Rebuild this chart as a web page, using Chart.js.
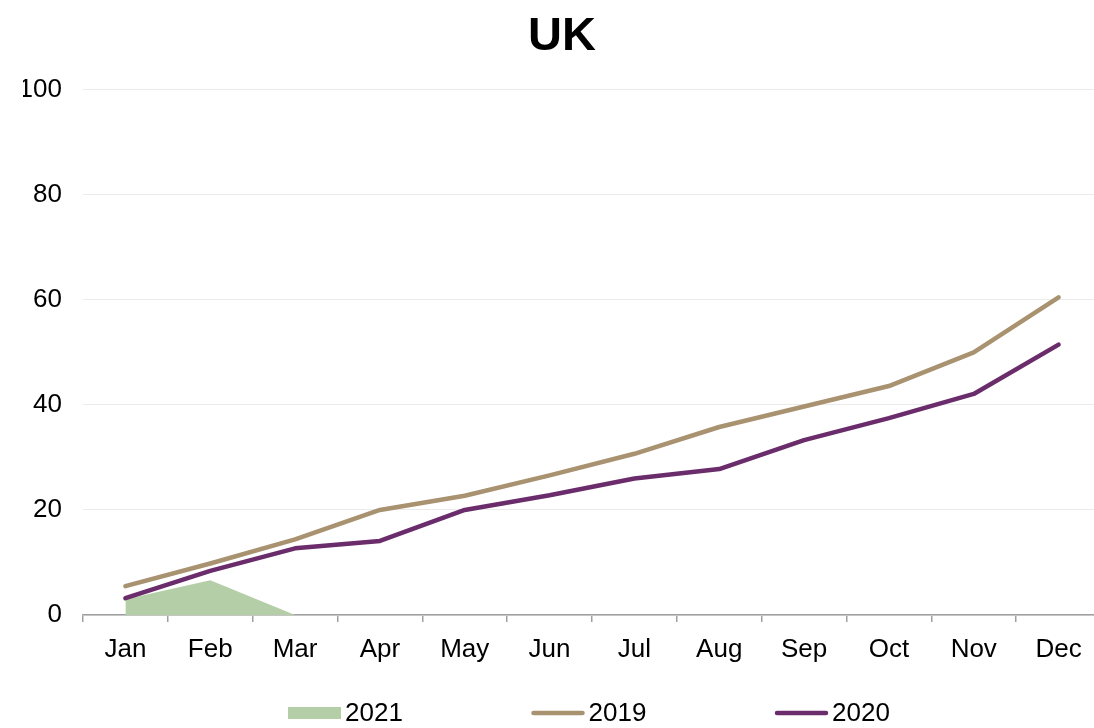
<!DOCTYPE html>
<html>
<head>
<meta charset="utf-8">
<title>UK</title>
<script src="https://cdn.jsdelivr.net/npm/chart.js@4/dist/chart.umd.min.js"></script>
<style>
  html, body { margin: 0; padding: 0; background: #ffffff; overflow: hidden; }
  #wrap { position: relative; width: 1094px; height: 728px; overflow: hidden; }
  #chart { position: absolute; left: 0; top: 0; }
</style>
</head>
<body>
<div id="wrap"><canvas id="chart" width="1101" height="728"></canvas></div>
<script>
// Month categories and yearly cumulative series
const months = ['Jan', 'Feb', 'Mar', 'Apr', 'May', 'Jun', 'Jul', 'Aug', 'Sep', 'Oct', 'Nov', 'Dec'];
const values2021 = [3.0, 6.6, 0];
const values2019 = [5.5, 9.8, 14.4, 20.0, 22.7, 26.6, 30.7, 35.8, 39.7, 43.6, 50.0, 60.5];
const values2020 = [3.2, 8.4, 12.7, 14.1, 20.0, 22.8, 26.0, 27.8, 33.3, 37.5, 42.1, 51.5];
const yTicks = [0, 20, 40, 60, 80, 100];

const FONT = '"Liberation Sans", Arial, Helvetica, sans-serif';
const GREEN = '#b4cea7';
const TAN = '#a89270';
const PURPLE = '#6b2c6c';

// Legend row under the axis: filled box for the area series, short strokes for lines
const bottomLegend = {
  id: 'bottomLegend',
  afterDraw(chart, args, opts) {
    const ctx = chart.ctx;
    const y = opts.y;
    ctx.save();
    ctx.font = opts.fontSize + 'px ' + FONT;
    ctx.textBaseline = 'middle';
    ctx.textAlign = 'left';
    chart.data.datasets.forEach((ds, i) => {
      const x = opts.left + i * opts.step;
      if (ds.fill) {
        ctx.fillStyle = ds.backgroundColor;
        ctx.fillRect(x, y - 6, opts.swatch, 12);
      } else {
        ctx.strokeStyle = ds.borderColor;
        ctx.lineWidth = 4.5;
        ctx.lineCap = 'round';
        ctx.beginPath();
        ctx.moveTo(x + 2, y);
        ctx.lineTo(x + opts.swatch - 2, y);
        ctx.stroke();
      }
      ctx.fillStyle = '#000000';
      ctx.fillText(ds.label, x + opts.swatch + opts.gap, y + 1);
    });
    ctx.restore();
  }
};

new Chart(document.getElementById('chart'), {
  type: 'line',
  data: {
    labels: months,
    datasets: [
      {
        label: '2021',
        data: values2021,
        fill: 'origin',
        backgroundColor: GREEN,
        borderWidth: 0,
        borderColor: 'rgba(0,0,0,0)',
        pointRadius: 0,
        tension: 0,
        order: 2
      },
      {
        label: '2019',
        data: values2019,
        fill: false,
        borderColor: TAN,
        borderWidth: 4.5,
        borderCapStyle: 'round',
        borderJoinStyle: 'round',
        pointRadius: 0,
        tension: 0,
        order: 1
      },
      {
        label: '2020',
        data: values2020,
        fill: false,
        borderColor: PURPLE,
        borderWidth: 4.5,
        borderCapStyle: 'round',
        borderJoinStyle: 'round',
        pointRadius: 0,
        tension: 0,
        order: 0
      }
    ]
  },
  options: {
    responsive: false,
    animation: false,
    events: [],
    layout: { padding: { left: 23, right: 0, top: 0, bottom: 63 } },
    plugins: {
      legend: { display: false },
      tooltip: { enabled: false },
      title: {
        display: true,
        text: 'UK',
        color: '#000000',
        font: { family: FONT, size: 47, weight: 'bold', lineHeight: 1.2 },
        padding: { top: 9, bottom: 24.5 }
      },
      bottomLegend: { left: 288, step: 243.5, swatch: 53, gap: 4, y: 713, fontSize: 26 }
    },
    scales: {
      x: {
        type: 'category',
        offset: true,
        afterFit(scale) { scale.height = 50; },
        grid: {
          offset: true,
          drawOnChartArea: false,
          drawTicks: true,
          tickLength: 7,
          color: '#a0a0a0',
          lineWidth: 1.5
        },
        border: { display: true, color: '#a0a0a0', width: 1.5 },
        ticks: {
          color: '#000000',
          font: { family: FONT, size: 26 },
          padding: 12,
          maxRotation: 0,
          autoSkip: false
        }
      },
      y: {
        min: 0,
        max: 100,
        afterFit(scale) { scale.width = 60; },
        afterBuildTicks(scale) { scale.ticks = yTicks.map(v => ({ value: v })); },
        grid: {
          drawTicks: false,
          color: '#ebebeb',
          lineWidth: 1
        },
        border: { display: false },
        ticks: {
          color: '#000000',
          font: { family: FONT, size: 26 },
          padding: 21
        }
      }
    }
  },
  plugins: [bottomLegend]
});
</script>
</body>
</html>
